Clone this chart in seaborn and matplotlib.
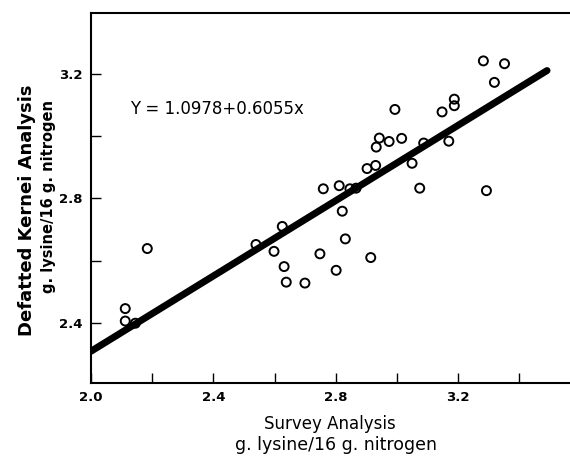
import numpy as np
import pandas as pd
import matplotlib
matplotlib.use('Agg')
import matplotlib.pyplot as plt
import seaborn as sns

# survey analysis (x) vs defatted kernel analysis (y), g lysine / 16 g N
survey = [3.282, 3.351, 3.318, 2.993, 3.147, 3.187, 3.187, 2.942, 2.932, 2.974,
          3.015, 3.087, 3.169, 3.049, 2.902, 2.930, 2.759, 2.811, 2.846, 2.866,
          3.074, 3.292, 2.821, 2.625, 2.539, 2.598, 2.831, 2.748, 2.914, 2.631,
          2.801, 2.638, 2.699, 2.184, 2.112, 2.112, 2.145]
kernel = [3.242, 3.233, 3.173, 3.086, 3.078, 3.119, 3.098, 2.994, 2.965, 2.983,
          2.993, 2.978, 2.984, 2.913, 2.896, 2.906, 2.831, 2.841, 2.831, 2.833,
          2.833, 2.825, 2.759, 2.710, 2.652, 2.630, 2.670, 2.622, 2.610, 2.581,
          2.569, 2.531, 2.528, 2.639, 2.446, 2.406, 2.399]

intercept = 1.0978
slope = 0.6055
fit_range = [2.0, 3.49]

x_ticks = [2.0, 2.2, 2.4, 2.6, 2.8, 3.0, 3.2, 3.4]
x_labels = ['2.0', '', '2.4', '', '2.8', '', '3.2', '']
y_ticks = [2.4, 2.6, 2.8, 3.0, 3.2]
y_labels = ['2.4', '', '2.8', '', '3.2']

sns.set_style('ticks')
plt.rcParams['font.family'] = ['DejaVu Sans']
plt.rcParams['text.color'] = 'black'

df = pd.DataFrame({'survey': survey, 'kernel': kernel})
fit_x = np.linspace(fit_range[0], fit_range[1], 50)
fit = pd.DataFrame({'x': fit_x, 'y': intercept + slope * fit_x})

fig = plt.figure(figsize=(5.7, 4.57), dpi=100)
ax = fig.add_axes([0.1596, 0.162, 0.8404, 0.8096])

sns.lineplot(data=fit, x='x', y='y', color='black', linewidth=5, ax=ax)
sns.scatterplot(data=df, x='survey', y='kernel', ax=ax, s=42,
                facecolor='none', edgecolor='black', linewidth=1.4, zorder=3)

ax.set_xlim(2.0, 3.565)
ax.set_ylim(2.207, 3.396)
ax.set_xticks(x_ticks)
ax.set_xticklabels(x_labels)
ax.set_yticks(y_ticks)
ax.set_yticklabels(y_labels)
ax.tick_params(direction='in', length=7, width=1, labelsize=9.5, pad=6,
               colors='black')
for lab in ax.get_xticklabels() + ax.get_yticklabels():
    lab.set_fontweight('bold')
ax.set_xlabel('')
ax.set_ylabel('')

ax.spines['right'].set_visible(False)
for side in ['left', 'bottom', 'top']:
    ax.spines[side].set_linewidth(1.5)
    ax.spines[side].set_color('black')

# axis titles
fig.text(330 / 570, 1 - 424 / 457, 'Survey Analysis', fontsize=12,
         ha='center', va='center')
fig.text(336 / 570, 1 - 445 / 457, 'g. lysine/16 g. nitrogen', fontsize=12.5,
         ha='center', va='center')
fig.text(27 / 570, 1 - 210 / 457, 'Defatted Kernei Analysis', fontsize=13,
         fontweight='bold', rotation=90, ha='center', va='center')
fig.text(49 / 570, 1 - 197 / 457, 'g. lysine/16 g. nitrogen', fontsize=10.5,
         fontweight='bold', rotation=90, ha='center', va='center')

ax.text(2.127, 3.088, 'Y = 1.0978+0.6055x', fontsize=12, va='center', ha='left')

fig.savefig('out.png', dpi=100)
plt.close(fig)
